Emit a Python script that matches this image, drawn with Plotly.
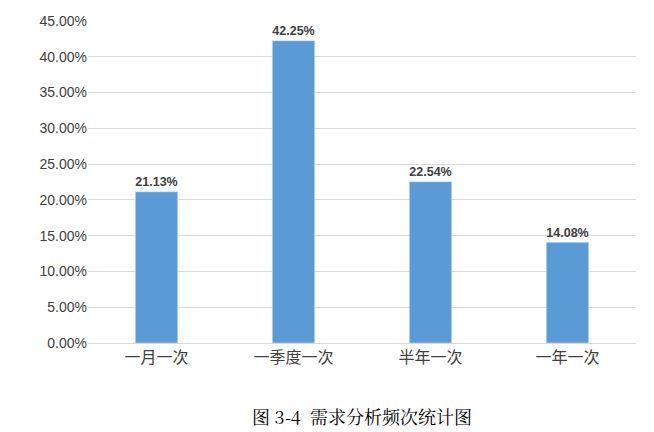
import plotly.graph_objects as go

categories = ["一月一次", "一季度一次", "半年一次", "一年一次"]
values = [21.13, 42.25, 22.54, 14.08]
tick_vals = [0, 5, 10, 15, 20, 25, 30, 35, 40, 45]
tick_text = [f"{v:.2f}%" for v in tick_vals]

fig = go.Figure(go.Bar(
    x=categories, y=values, marker_color="#5B9BD5", width=0.31,
    text=[f"<b>{v:.2f}%</b>" for v in values], textposition="outside",
    textfont=dict(family="Liberation Sans, Arial", size=15, color="#404040"),
    cliponaxis=False,
))
fig.update_layout(
    width=654, height=432, margin=dict(l=80, r=26, t=13, b=97, autoexpand=False),
    plot_bgcolor="white", paper_bgcolor="white", showlegend=False,
    xaxis=dict(tickfont=dict(family="Noto Sans CJK SC", size=16, color="#404040"),
               showline=True, linecolor="#D9D9D9", ticks="", automargin=False),
    yaxis=dict(range=[0, 45], tickvals=tick_vals, ticktext=tick_text,
               gridcolor="#D9D9D9", zeroline=False, automargin=False,
               tickfont=dict(family="Liberation Sans, Arial", size=14, color="#404040")),
    annotations=[dict(text="图 3-4  需求分析频次统计图", xref="paper", yref="paper",
                      x=0.5, y=-0.227, xanchor="center", yanchor="middle", showarrow=False,
                      font=dict(family="Noto Serif CJK SC, Liberation Serif, serif", size=18, color="black"))],
)
fig.write_html("out.html")
